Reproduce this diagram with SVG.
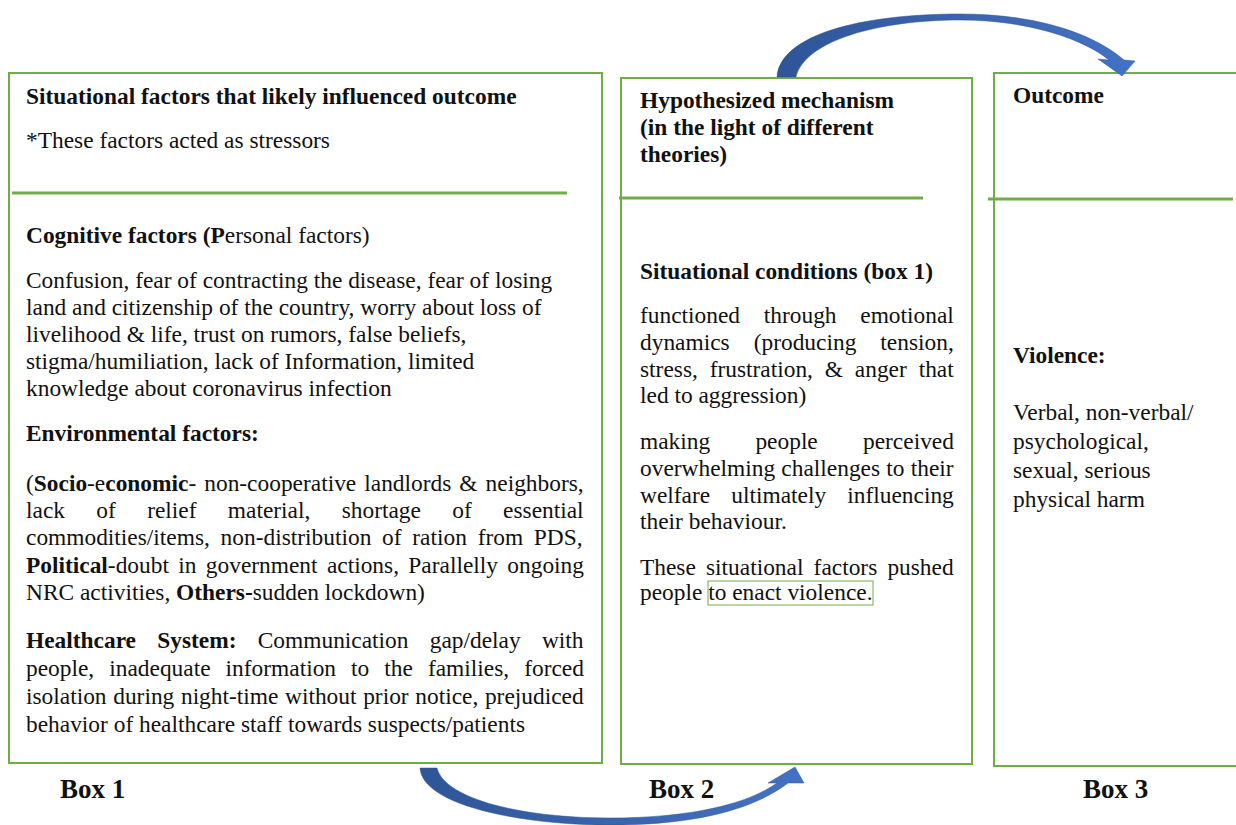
<svg xmlns="http://www.w3.org/2000/svg" width="1236" height="825" viewBox="0 0 1236 825">
<style>
.box{fill:#fff;stroke:#70ad47;stroke-width:2}
.div{stroke:#70ad47;stroke-width:3}
text{font-family:"Liberation Serif","Times New Roman",serif;font-size:23.4px;fill:#111}
.b{font-weight:bold}
.lbl{font-size:27px;font-weight:bold}
</style>
<defs>
<linearGradient id="ag" x1="0" y1="0" x2="1" y2="0">
<stop offset="0" stop-color="#2f5597"/>
<stop offset="1" stop-color="#4472c4"/>
</linearGradient>
</defs>
<rect width="1236" height="825" fill="#fff"/>
<g id="box1">
<rect class="box" x="9" y="73" width="593" height="690"/>
<line class="div" x1="12" y1="193" x2="567" y2="193"/>
<text class="b" x="26" y="104">Situational factors that likely influenced outcome</text>
<text x="26" y="148">*These factors acted as stressors</text>
<text x="26" y="243"><tspan class="b">Cognitive factors (P</tspan>ersonal factors)</text>
<text x="26" y="288">Confusion, fear of contracting the disease, fear of losing</text>
<text x="26" y="315">land and citizenship of the country, worry about loss of</text>
<text x="26" y="342">livelihood &amp; life, trust on rumors, false beliefs,</text>
<text x="26" y="369">stigma/humiliation, lack of Information, limited</text>
<text x="26" y="396">knowledge about coronavirus infection</text>
<text class="b" x="26" y="441">Environmental factors:</text>
<text x="26" y="491" word-spacing="2.2">(<tspan class="b">Socio</tspan>-e<tspan class="b">conomic</tspan>- non-cooperative landlords &amp; neighbors,</text>
<text x="26" y="518" word-spacing="25.5">lack of relief material, shortage of essential</text>
<text x="26" y="545" word-spacing="4.9">commodities/items, non-distribution of ration from PDS,</text>
<text x="26" y="573" word-spacing="3.5"><tspan class="b">Political</tspan>-doubt in government actions, Parallelly ongoing</text>
<text x="26" y="600">NRC activities, <tspan class="b">Others-</tspan>sudden lockdown)</text>
<text x="26" y="648" word-spacing="15.4"><tspan class="b">Healthcare System:</tspan> Communication gap/delay with</text>
<text x="26" y="676" word-spacing="9.2">people, inadequate information to the families, forced</text>
<text x="26" y="704" word-spacing="0.8">isolation during night-time without prior notice, prejudiced</text>
<text x="26" y="732">behavior of healthcare staff towards suspects/patients</text>
</g>
<g id="box2">
<rect class="box" x="621" y="78" width="351" height="686"/>
<line class="div" x1="619" y1="198" x2="923" y2="198"/>
<text class="b" x="640" y="108">Hypothesized mechanism</text>
<text class="b" x="640" y="135">(in the light of different</text>
<text class="b" x="640" y="162">theories)</text>
<text class="b" x="640" y="279">Situational conditions (box 1)</text>
<text x="640" y="323" word-spacing="17.9">functioned through emotional</text>
<text x="640" y="350" word-spacing="18.2">dynamics (producing tension,</text>
<text x="640" y="377" word-spacing="6">stress, frustration, &amp; anger that</text>
<text x="640" y="403">led to aggression)</text>
<text x="640" y="449" word-spacing="39.4">making people perceived</text>
<text x="640" y="476" word-spacing="0.4">overwhelming challenges to their</text>
<text x="640" y="503" word-spacing="15.3">welfare ultimately influencing</text>
<text x="640" y="529">their behaviour.</text>
<text x="640" y="575" word-spacing="4.3">These situational factors pushed</text>
<text x="640" y="600">people to enact violence.</text>
<rect x="708" y="581" width="165" height="24" fill="none" stroke="#70ad47" stroke-width="1"/>
</g>
<g id="box3">
<rect class="box" x="994" y="73" width="260" height="693"/>
<line class="div" x1="988" y1="199" x2="1233" y2="199"/>
<text class="b" x="1013" y="103">Outcome</text>
<text class="b" x="1013" y="363">Violence:</text>
<text x="1013" y="420">Verbal, non-verbal/</text>
<text x="1013" y="449">psychological,</text>
<text x="1013" y="478">sexual, serious</text>
<text x="1013" y="507">physical harm</text>
</g>
<g id="labels">
<text class="lbl" x="60" y="798">Box 1</text>
<text class="lbl" x="649" y="798">Box 2</text>
<text class="lbl" x="1083" y="798">Box 3</text>
</g>
<g id="connectors">
<path fill="url(#ag)" stroke="#2f5597" stroke-width="0.5" d="M777,77 C780,35 860,14 960,14 C1040,14 1095,35 1124,60 L1135,61 L1122,76 L1098,59 L1109,60 C1085,40 1030,20 960,20 C880,20 805,40 796,77 Z"/>
<path fill="url(#ag)" stroke="#2f5597" stroke-width="0.5" d="M420,768 C422,805 520,825 610,825 C700,825 755,808 788,783 L804,783 L795,767 L768,783 L777,783 C748,804 690,818 610,818 C525,818 445,800 437,768 Z"/>
</g>
</svg>
